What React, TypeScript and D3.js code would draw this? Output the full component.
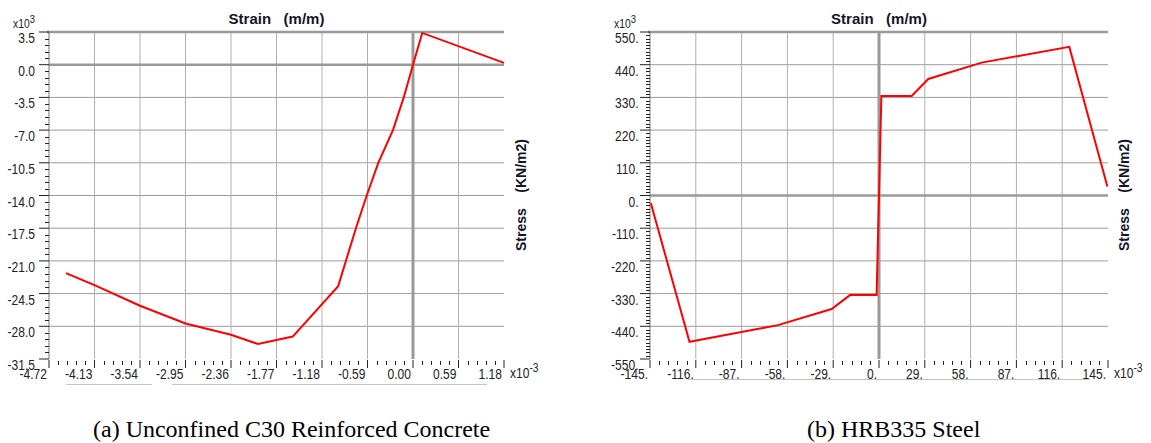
import { useRef, useEffect } from "react";
import * as d3 from "d3";

// (a) concrete: strain in x10^-3 m/m, stress in x10^3 kN/m2
const concreteStrain = [-4.5, -4.13, -3.54, -2.95, -2.36, -2.01, -1.56, -0.97, -0.74, -0.6, -0.45, -0.26, -0.12, 0.0, 0.12, 1.18];
const concreteStress = [-22.3, -23.6, -25.8, -27.7, -28.9, -29.9, -29.1, -23.7, -17.5, -14.0, -10.5, -7.0, -3.5, 0.0, 3.4, 0.2];
const concreteStrainTicks = [-4.72, -4.13, -3.54, -2.95, -2.36, -1.77, -1.18, -0.59, 0.0, 0.59, 1.18];
const concreteStressTicks = [3.5, 0.0, -3.5, -7.0, -10.5, -14.0, -17.5, -21.0, -24.5, -28.0, -31.5];

// (b) steel
const steelStrain = [-144.5, -120, -64, -30, -18.4, -1.5, 1.5, 20.7, 31.2, 65, 120.5, 144.6];
const steelStress = [-25, -492, -436, -382, -335, -335, 335, 335, 392, 447, 500, 30];
const steelStrainTicks = [-145, -116, -87, -58, -29, 0, 29, 58, 87, 116, 145];
const steelStressTicks = [550, 440, 330, 220, 110, 0, -110, -220, -330, -440, -550];

const captions = ["(a) Unconfined C30 Reinforced Concrete", "(b) HRB335 Steel"];

type Panel = {
  strain: number[];
  stress: number[];
  xTicks: number[];
  yTicks: number[];
  xFmt: (v: number) => string;
  yFmt: (v: number) => string;
  yMinor: number; // minor ticks between two major y ticks
  left: number;
  right: number;
  labelGap: number;
  stressLabelX: number;
  scrollbar: [number, number][];
  scrollY: number;
  caption: string;
  captionX: number;
};

const TOP = 32;
const BOTTOM = 359;
const SANS = "'Liberation Sans', Arial, sans-serif";

const panels: Panel[] = [
  {
    strain: concreteStrain,
    stress: concreteStress,
    xTicks: concreteStrainTicks,
    yTicks: concreteStressTicks,
    xFmt: (v) => v.toFixed(2),
    yFmt: (v) => v.toFixed(1),
    yMinor: 4,
    left: 49,
    right: 504,
    labelGap: 14,
    stressLabelX: 526,
    scrollbar: [[66, 152], [172, 487]],
    scrollY: 384,
    caption: captions[0],
    captionX: 93,
  },
  {
    strain: steelStrain,
    stress: steelStress,
    xTicks: steelStrainTicks,
    yTicks: steelStressTicks,
    xFmt: (v) => `${v}.`,
    yFmt: (v) => `${v}.`,
    yMinor: 9,
    left: 650,
    right: 1108,
    labelGap: 11.5,
    stressLabelX: 1129,
    scrollbar: [[688, 1090]],
    scrollY: 379,
    caption: captions[1],
    captionX: 807,
  },
];

const drawPanel = (svg: d3.Selection<SVGSVGElement, unknown, null, undefined>, p: Panel) => {
  const g = svg.append("g");
  const x = d3
    .scaleLinear()
    .domain([p.xTicks[0], p.xTicks[p.xTicks.length - 1]])
    .range([p.left, p.right]);
  const y = d3
    .scaleLinear()
    .domain([p.yTicks[p.yTicks.length - 1], p.yTicks[0]])
    .range([BOTTOM, TOP]);

  // grid (interior majors only, zero lines drawn thicker below)
  g.selectAll(".hgrid")
    .data(p.yTicks.slice(1, -1).filter((v) => v !== 0))
    .join("line")
    .attr("x1", p.left)
    .attr("x2", p.right)
    .attr("y1", (d) => y(d))
    .attr("y2", (d) => y(d))
    .attr("stroke", "#9c9c9c");
  g.selectAll(".vgrid")
    .data(p.xTicks.slice(1, -1).filter((v) => v !== 0))
    .join("line")
    .attr("x1", (d) => x(d))
    .attr("x2", (d) => x(d))
    .attr("y1", TOP)
    .attr("y2", BOTTOM)
    .attr("stroke", "#b0b0b0");

  // zero lines + top border
  g.append("line")
    .attr("x1", p.left).attr("x2", p.right)
    .attr("y1", y(0)).attr("y2", y(0))
    .attr("stroke", "#9a9a9a").attr("stroke-width", 2.5);
  g.append("line")
    .attr("x1", x(0)).attr("x2", x(0))
    .attr("y1", TOP).attr("y2", BOTTOM)
    .attr("stroke", "#9a9a9a").attr("stroke-width", 3);
  g.append("line")
    .attr("x1", p.left - 2).attr("x2", p.right)
    .attr("y1", TOP).attr("y2", TOP)
    .attr("stroke", "#9a9a9a").attr("stroke-width", 2.5);

  // y axis
  g.append("line")
    .attr("x1", p.left).attr("x2", p.left)
    .attr("y1", TOP).attr("y2", BOTTOM)
    .attr("stroke", "#777");
  g.selectAll(".ymajor")
    .data(p.yTicks)
    .join("line")
    .attr("x1", p.left - 10).attr("x2", p.left)
    .attr("y1", (d) => y(d)).attr("y2", (d) => y(d))
    .attr("stroke", "#222");
  const yStep = (p.yTicks[0] - p.yTicks[1]) / (p.yMinor + 1);
  const yMinors = p.yTicks.slice(0, -1).flatMap((t) => d3.range(1, p.yMinor + 1).map((k) => t - k * yStep));
  g.selectAll(".yminor")
    .data(yMinors)
    .join("line")
    .attr("x1", p.left - 4).attr("x2", p.left)
    .attr("y1", (d) => Math.round(y(d)) + 0.5).attr("y2", (d) => Math.round(y(d)) + 0.5)
    .attr("stroke", "#222");

  // x ticks under the plot
  g.selectAll(".xmajor")
    .data(p.xTicks)
    .join("line")
    .attr("x1", (d) => x(d)).attr("x2", (d) => x(d))
    .attr("y1", BOTTOM + 1).attr("y2", BOTTOM + 9)
    .attr("stroke", "#222");
  const xStep = (p.xTicks[1] - p.xTicks[0]) / 5;
  const xMinors = p.xTicks.slice(0, -1).flatMap((t) => d3.range(1, 5).map((k) => t + k * xStep));
  g.selectAll(".xminor")
    .data(xMinors)
    .join("line")
    .attr("x1", (d) => Math.round(x(d)) + 0.5).attr("x2", (d) => Math.round(x(d)) + 0.5)
    .attr("y1", BOTTOM + 2).attr("y2", BOTTOM + 6)
    .attr("stroke", "#222");

  // tick labels (slightly condensed like the original UI font)
  g.selectAll(".ylabel")
    .data(p.yTicks)
    .join("text")
    .attr("transform", (d) => `translate(${p.left - p.labelGap},${y(d) + 11}) scale(0.86,1)`)
    .attr("text-anchor", "end")
    .attr("font-family", SANS)
    .attr("font-size", 14)
    .attr("fill", "#222")
    .text((d) => p.yFmt(d));
  g.selectAll(".xlabel")
    .data(p.xTicks)
    .join("text")
    .attr("transform", (d) => `translate(${x(d) - 2},${BOTTOM + 20}) scale(0.86,1)`)
    .attr("text-anchor", "end")
    .attr("font-family", SANS)
    .attr("font-size", 14)
    .attr("fill", "#222")
    .text((d) => p.xFmt(d));

  // multipliers
  const yMul = g.append("text")
    .attr("transform", `translate(${p.left - 36},28) scale(0.86,1)`)
    .attr("font-family", SANS).attr("font-size", 12).attr("fill", "#222");
  yMul.append("tspan").text("x10");
  yMul.append("tspan").attr("dy", -5).attr("font-size", 11).text("3");
  const xMul = g.append("text")
    .attr("transform", `translate(${p.right + 6},${BOTTOM + 19}) scale(0.86,1)`)
    .attr("font-family", SANS).attr("font-size", 14).attr("fill", "#222");
  xMul.append("tspan").text("x10");
  xMul.append("tspan").attr("dy", -6).attr("font-size", 12).text("-3");

  // axis titles
  g.append("text")
    .attr("x", (p.left + p.right) / 2)
    .attr("y", 23.5)
    .attr("text-anchor", "middle")
    .attr("font-family", SANS)
    .attr("font-weight", "bold")
    .attr("font-size", 15)
    .attr("fill", "#15152a")
    .style("white-space", "pre")
    .text("Strain   (m/m)");
  g.append("text")
    .attr("transform", `translate(${p.stressLabelX},195) rotate(-90)`)
    .attr("text-anchor", "middle")
    .attr("font-family", SANS)
    .attr("font-weight", "bold")
    .attr("font-size", 14)
    .attr("fill", "#15152a")
    .style("white-space", "pre")
    .text("Stress    (KN/m2)");

  // leftover scrollbar strip under the axis
  g.selectAll(".scroll")
    .data(p.scrollbar)
    .join("line")
    .attr("x1", (d) => d[0]).attr("x2", (d) => d[1])
    .attr("y1", p.scrollY + 0.5).attr("y2", p.scrollY + 0.5)
    .attr("stroke", "#c4c4c4");

  // curve
  const pts = p.strain.map((s, i) => [s, p.stress[i]] as [number, number]);
  g.append("path")
    .datum(pts)
    .attr("fill", "none")
    .attr("stroke", "#ff0000")
    .attr("stroke-width", 2)
    .attr("d", d3.line<[number, number]>().x((d) => x(d[0])).y((d) => y(d[1])));

  // caption
  svg.append("text")
    .attr("x", p.captionX)
    .attr("y", 437)
    .attr("font-family", "'Liberation Serif', 'Times New Roman', serif")
    .attr("font-size", 24)
    .attr("fill", "#000")
    .text(p.caption);
};

const App = () => {
  const ref = useRef<SVGSVGElement>(null);

  useEffect(() => {
    if (!ref.current) {
      return;
    }
    const svg = d3.select(ref.current);
    svg.selectAll("*").remove();
    svg.append("rect").attr("width", 1151).attr("height", 443).attr("fill", "#fff");
    panels.forEach((p) => drawPanel(svg, p));
  }, []);

  return (
    <svg
      ref={ref}
      width="1151"
      height="443"
      style={{ position: "absolute", left: 0, top: 0 }}
    ></svg>
  );
};

export default App;
